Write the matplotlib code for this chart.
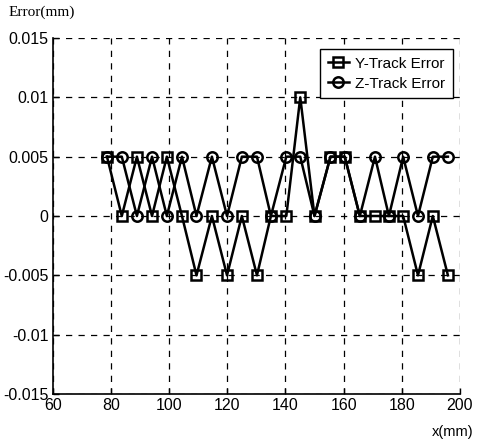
import matplotlib
matplotlib.use("Agg")
import matplotlib.pyplot as plt

x_mm = [78.6, 83.7, 88.9, 94.1, 99.2, 104.4, 109.4, 114.7, 119.9, 125.0, 130.2, 135.0,
        140.3, 145.1, 150.0, 155.5, 160.4, 165.6, 170.8, 175.6, 180.5, 185.6, 190.7, 195.9]
y_err = [0.005, 0, 0.005, 0, 0.005, 0, -0.005, 0, -0.005, 0, -0.005, 0,
         0, 0.01, 0, 0.005, 0.005, 0, 0, 0, 0, -0.005, 0, -0.005]
z_err = [0.005, 0.005, 0, 0.005, 0, 0.005, 0, 0.005, 0, 0.005, 0.005, 0,
         0.005, 0.005, 0, 0.005, 0.005, 0, 0.005, 0, 0.005, 0, 0.005, 0.005]
xticks = [60, 80, 100, 120, 140, 160, 180, 200]
yticks = [-0.015, -0.01, -0.005, 0, 0.005, 0.01, 0.015]
ytick_labels = ["-0.015", "-0.01", "-0.005", "0", "0.005", "0.01", "0.015"]

plt.rcParams['font.family'] = ['Liberation Sans', 'DejaVu Sans']

fig = plt.figure(figsize=(4.81, 4.44), dpi=100)
ax = fig.add_axes([0.110, 0.1126, 0.846, 0.8018])

ax.plot(x_mm, y_err, color='black', lw=1.8, marker='s', ms=7, mfc='none',
        mec='black', mew=1.8, label='Y-Track Error', zorder=3)
ax.plot(x_mm, z_err, color='black', lw=1.8, marker='o', ms=7.5, mfc='none',
        mec='black', mew=1.8, label='Z-Track Error', zorder=3)

ax.set_xlim(60, 200)
ax.set_ylim(-0.015, 0.015)
ax.set_xticks(xticks)
ax.set_yticks(yticks)
ax.set_yticklabels(ytick_labels)
ax.tick_params(direction='in', length=4, width=1, labelsize=11.5, colors='black', pad=3)

ax.grid(True, color='black', linestyle=(0, (5, 5)), linewidth=0.9)
for s in ['top', 'right']:
    ax.spines[s].set_visible(False)
for s in ['left', 'bottom']:
    ax.spines[s].set_linewidth(1.2)

leg = ax.legend(loc='upper right', bbox_to_anchor=(0.983, 0.969), borderaxespad=0,
                fontsize=11, frameon=True, fancybox=False, edgecolor='black',
                framealpha=1, handlelength=1.4, handletextpad=0.4, borderpad=0.5,
                labelspacing=0.4)
leg.get_frame().set_linewidth(1.0)

fig.text(0.018, 0.972, 'Error(mm)', fontsize=11, family=['Liberation Serif', 'DejaVu Serif'],
         ha='left', va='center')
fig.text(0.985, 0.028, 'x(mm)', fontsize=10.5, ha='right', va='center')

fig.savefig('out.png', dpi=100)
